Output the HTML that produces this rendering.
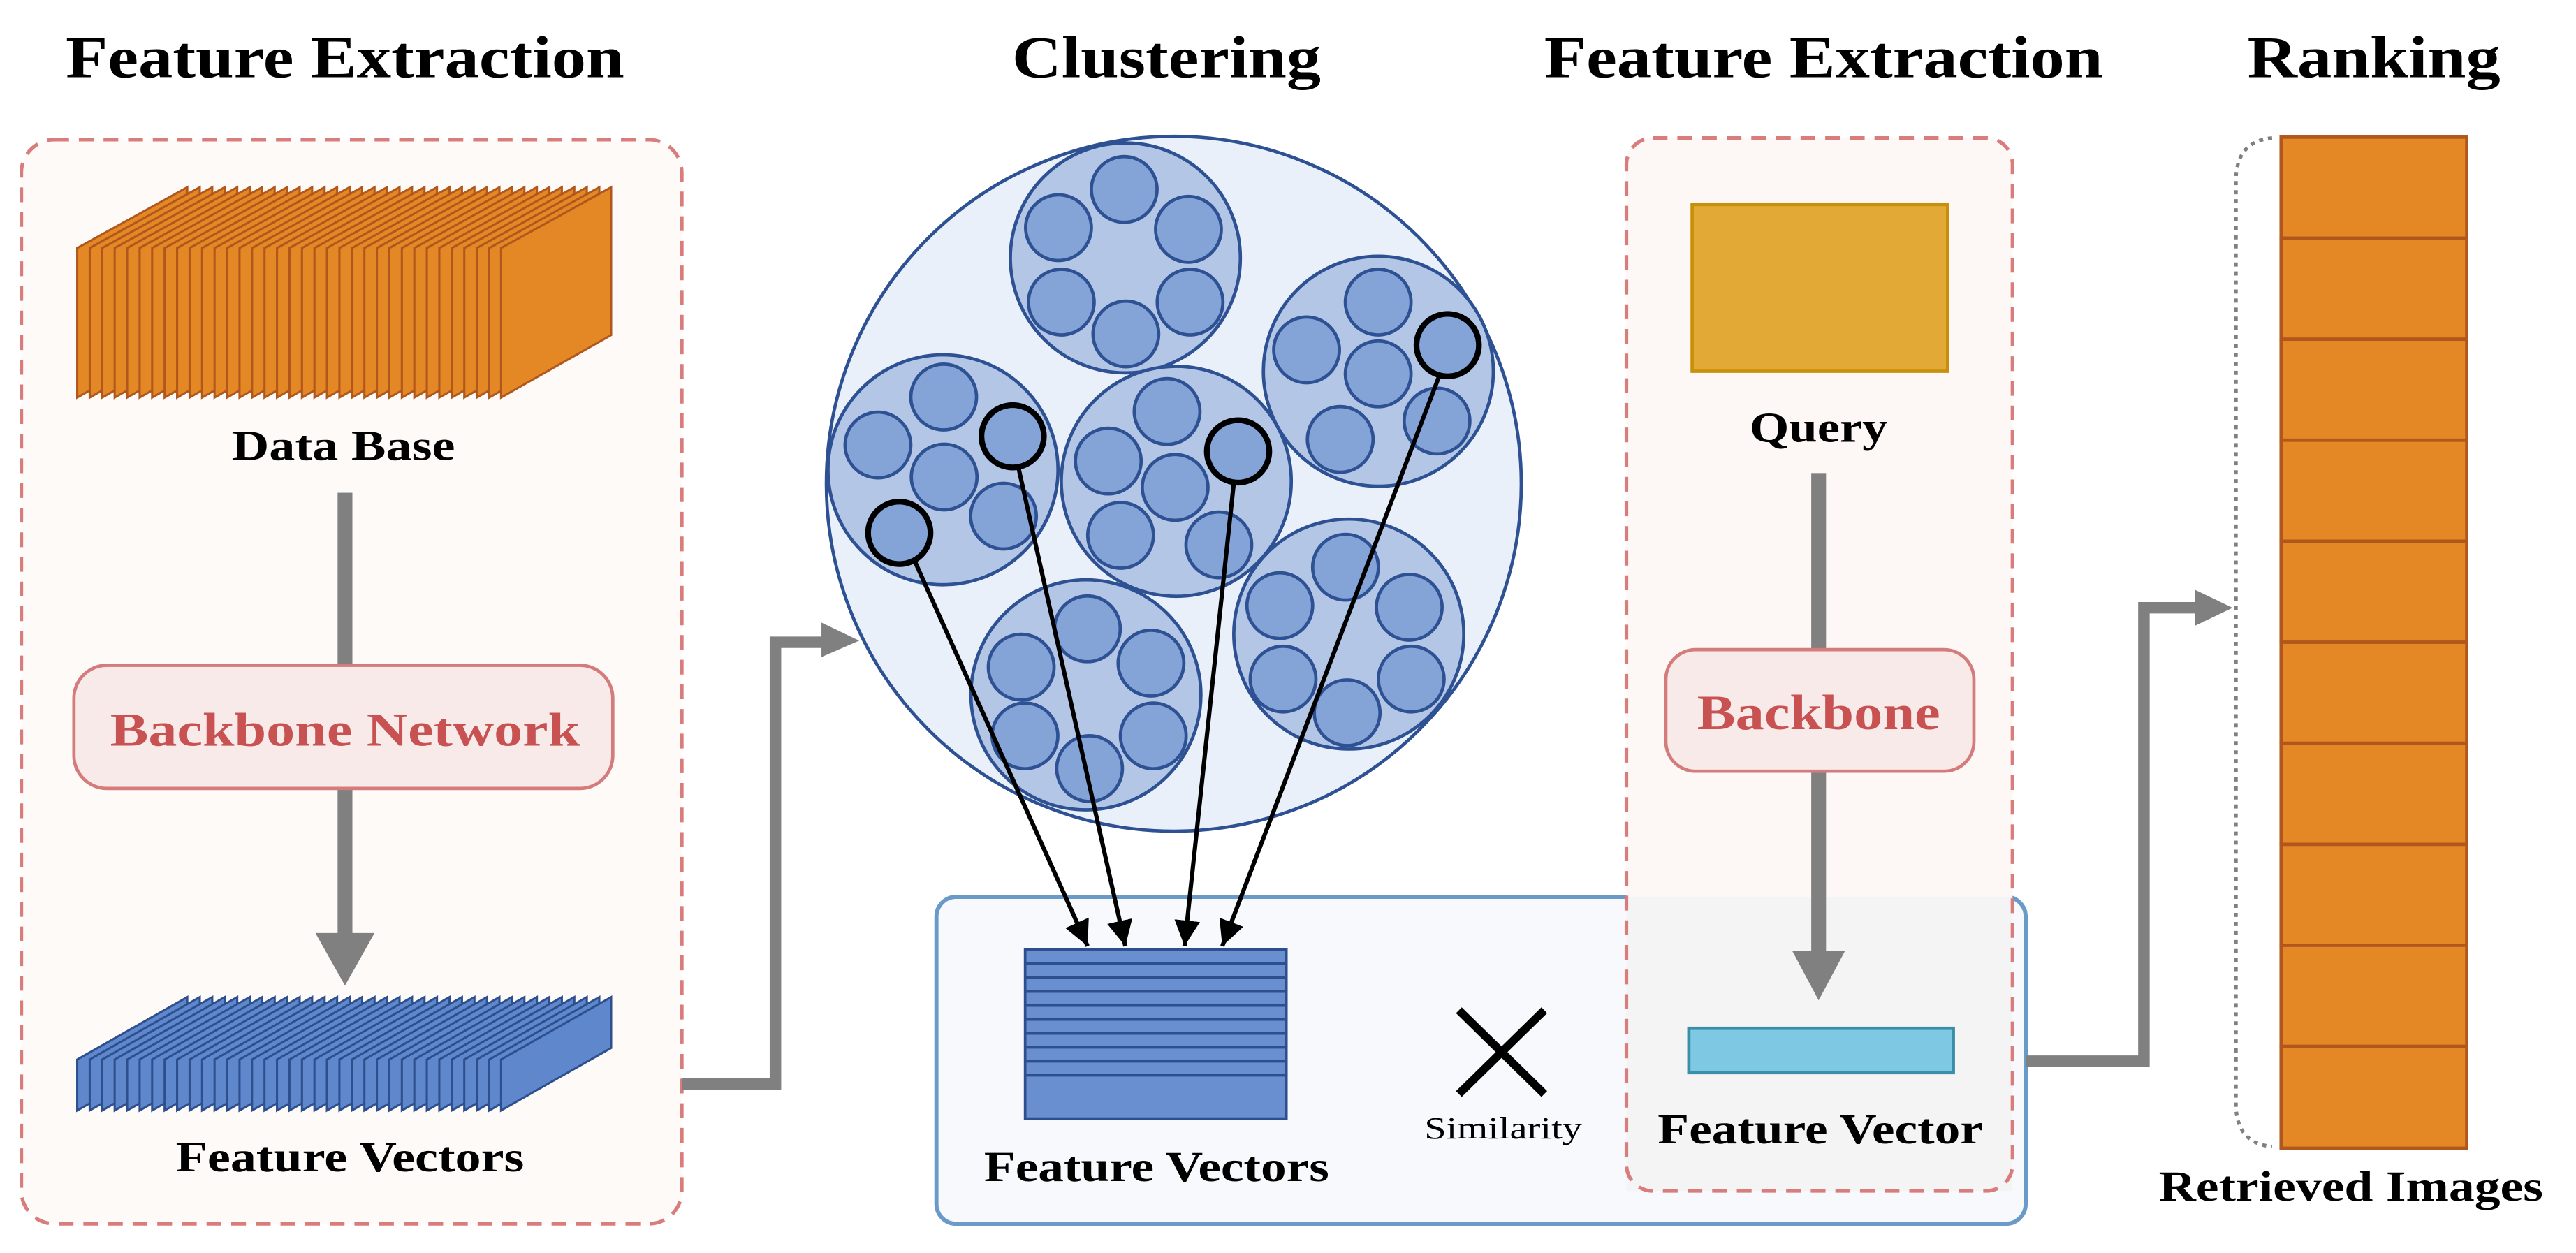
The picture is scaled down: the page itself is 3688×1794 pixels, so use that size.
<!DOCTYPE html>
<html><head><meta charset="utf-8"><style>html,body{margin:0;padding:0;background:#fff}svg{display:block}text{font-family:"Liberation Serif",serif}</style></head>
<body>
<svg width="3688" height="1794" viewBox="0 0 1568 762.8" preserveAspectRatio="none" xmlns="http://www.w3.org/2000/svg">
<defs>
<polygon id="op" points="0,151 67,114 67,204 0,242" fill="#e48725" stroke="#b0571d" stroke-width="1.3"/>
<polygon id="bp" points="0,645 67,607 67,638 0,676" fill="#5f88cc" stroke="#2d4f8e" stroke-width="1.3"/>
<circle id="sc" r="20" fill="#84a4d8" stroke="#2d5193" stroke-width="2"/>
<circle id="mc" r="70" fill="#b3c6e6" stroke="#2d5193" stroke-width="2"/>
<marker id="ah" viewBox="0 0 10 10" refX="10" refY="5" markerWidth="6" markerHeight="6" orient="auto" markerUnits="strokeWidth"><path d="M0,0 L10,5 L0,10 z" fill="#000"/></marker>
</defs>
<g font-weight="bold" fill="#000">
<text x="210" y="47" font-size="36" text-anchor="middle" textLength="340" lengthAdjust="spacingAndGlyphs">Feature Extraction</text>
<text x="710" y="47" font-size="36" text-anchor="middle" textLength="188" lengthAdjust="spacingAndGlyphs">Clustering</text>
<text x="1110" y="47" font-size="36" text-anchor="middle" textLength="340" lengthAdjust="spacingAndGlyphs">Feature Extraction</text>
<text x="1445" y="47" font-size="36" text-anchor="middle" textLength="154" lengthAdjust="spacingAndGlyphs">Ranking</text>
</g>
<rect x="13" y="85" width="402" height="660" rx="20" fill="#fefaf8" stroke="#d87c7c" stroke-width="2.2" stroke-dasharray="9,6"/>
<g>
<use href="#op" x="47"/><use href="#op" x="54.6"/><use href="#op" x="62.2"/><use href="#op" x="69.8"/><use href="#op" x="77.4"/><use href="#op" x="85"/><use href="#op" x="92.6"/><use href="#op" x="100.2"/><use href="#op" x="107.8"/><use href="#op" x="115.4"/><use href="#op" x="123"/><use href="#op" x="130.6"/><use href="#op" x="138.2"/><use href="#op" x="145.8"/><use href="#op" x="153.4"/><use href="#op" x="161"/><use href="#op" x="168.6"/><use href="#op" x="176.2"/><use href="#op" x="183.8"/><use href="#op" x="191.4"/><use href="#op" x="199"/><use href="#op" x="206.6"/><use href="#op" x="214.2"/><use href="#op" x="221.8"/><use href="#op" x="229.4"/><use href="#op" x="237"/><use href="#op" x="244.6"/><use href="#op" x="252.2"/><use href="#op" x="259.8"/><use href="#op" x="267.4"/><use href="#op" x="275"/><use href="#op" x="282.6"/><use href="#op" x="290.2"/><use href="#op" x="297.8"/><use href="#op" x="305"/>
</g>
<text x="209" y="280" font-weight="bold" font-size="26" text-anchor="middle" textLength="136" lengthAdjust="spacingAndGlyphs">Data Base</text>
<rect x="205.5" y="300" width="9" height="270" fill="#808080"/>
<polygon points="192,568 228,568 210,600" fill="#808080"/>
<rect x="45" y="405" width="328" height="75" rx="20" fill="#f9eaea" stroke="#d47b7b" stroke-width="2"/>
<text x="210" y="454" font-weight="bold" font-size="29" fill="#c85252" text-anchor="middle" textLength="286" lengthAdjust="spacingAndGlyphs">Backbone Network</text>
<g>
<use href="#bp" x="47"/><use href="#bp" x="54.6"/><use href="#bp" x="62.2"/><use href="#bp" x="69.8"/><use href="#bp" x="77.4"/><use href="#bp" x="85"/><use href="#bp" x="92.6"/><use href="#bp" x="100.2"/><use href="#bp" x="107.8"/><use href="#bp" x="115.4"/><use href="#bp" x="123"/><use href="#bp" x="130.6"/><use href="#bp" x="138.2"/><use href="#bp" x="145.8"/><use href="#bp" x="153.4"/><use href="#bp" x="161"/><use href="#bp" x="168.6"/><use href="#bp" x="176.2"/><use href="#bp" x="183.8"/><use href="#bp" x="191.4"/><use href="#bp" x="199"/><use href="#bp" x="206.6"/><use href="#bp" x="214.2"/><use href="#bp" x="221.8"/><use href="#bp" x="229.4"/><use href="#bp" x="237"/><use href="#bp" x="244.6"/><use href="#bp" x="252.2"/><use href="#bp" x="259.8"/><use href="#bp" x="267.4"/><use href="#bp" x="275"/><use href="#bp" x="282.6"/><use href="#bp" x="290.2"/><use href="#bp" x="297.8"/><use href="#bp" x="305"/>
</g>
<text x="213" y="713" font-weight="bold" font-size="26" text-anchor="middle" textLength="212" lengthAdjust="spacingAndGlyphs">Feature Vectors</text>
<polyline points="415,660 472,660 472,391 502,391" fill="none" stroke="#808080" stroke-width="7"/>
<polygon points="500,379 523,390 500,400" fill="#808080"/>
<rect x="570" y="546" width="663" height="199" rx="12" fill="#f7f9fc" stroke="#6a9ac8" stroke-width="2.5"/>
<path d="M1006,84 H1209 Q1225,84 1225,100 V546 H990 V100 Q990,84 1006,84 z" fill="#fdf8f5"/>
<rect x="990" y="546" width="235" height="179" fill="#f4f4f5"/>
<rect x="990" y="84" width="235" height="641" rx="16" fill="none" stroke="#d87c7c" stroke-width="2.2" stroke-dasharray="9,6"/>
<circle cx="714.5" cy="294.5" r="211.5" fill="#e9f0f9" stroke="#2d5193" stroke-width="2"/>
<use href="#mc" x="685" y="157"/>
<use href="#mc" x="574" y="286"/>
<use href="#mc" x="716" y="293"/>
<use href="#mc" x="839" y="226"/>
<use href="#mc" x="661" y="423"/>
<use href="#mc" x="821" y="386"/>
<g>
<use href="#sc" x="684.3" y="115.3"/><use href="#sc" x="644.3" y="138.6"/><use href="#sc" x="723.4" y="139.6"/><use href="#sc" x="646" y="183.9"/><use href="#sc" x="724.4" y="183.9"/><use href="#sc" x="685.3" y="203.3"/>
<use href="#sc" x="574.4" y="241.7"/><use href="#sc" x="534.4" y="270.9"/><use href="#sc" x="574.7" y="290.4"/><use href="#sc" x="610.8" y="314.2"/>
<use href="#sc" x="710.4" y="250.5"/><use href="#sc" x="674.6" y="280.7"/><use href="#sc" x="715.3" y="296.7"/><use href="#sc" x="682.1" y="325.9"/><use href="#sc" x="741.9" y="331.7"/>
<use href="#sc" x="838.9" y="183.9"/><use href="#sc" x="795.3" y="213"/><use href="#sc" x="838.9" y="227.6"/><use href="#sc" x="815.8" y="267.5"/><use href="#sc" x="874.7" y="256.3"/>
<use href="#sc" x="661.9" y="382.8"/><use href="#sc" x="621.6" y="406.1"/><use href="#sc" x="700.6" y="403.7"/><use href="#sc" x="623.9" y="448"/><use href="#sc" x="702" y="448"/><use href="#sc" x="663.2" y="467.9"/>
<use href="#sc" x="819" y="345.3"/><use href="#sc" x="779" y="368.7"/><use href="#sc" x="857.8" y="369.7"/><use href="#sc" x="781" y="413.4"/><use href="#sc" x="859" y="413.4"/><use href="#sc" x="820" y="433.9"/>
</g>
<g fill="#84a4d8" stroke="#000" stroke-width="3.5">
<circle cx="616.4" cy="265.6" r="19"/><circle cx="547.4" cy="324.4" r="19"/><circle cx="753.6" cy="274.8" r="19"/><circle cx="881.2" cy="210.1" r="19"/>
</g>
<g stroke="#000" stroke-width="2.6" fill="none" marker-end="url(#ah)">
<line x1="557" y1="342" x2="662" y2="576"/>
<line x1="620" y1="285" x2="685" y2="576"/>
<line x1="751" y1="294" x2="721" y2="576"/>
<line x1="876" y1="229" x2="744" y2="576"/>
</g>
<rect x="624" y="578" width="159" height="103" fill="#6a8fd1" stroke="#2d4f8e" stroke-width="1.6"/>
<g stroke="#2d4f8e" stroke-width="1.8">
<line x1="624" y1="586.5" x2="783" y2="586.5"/><line x1="624" y1="595" x2="783" y2="595"/><line x1="624" y1="603.5" x2="783" y2="603.5"/><line x1="624" y1="612" x2="783" y2="612"/><line x1="624" y1="620.5" x2="783" y2="620.5"/><line x1="624" y1="629" x2="783" y2="629"/><line x1="624" y1="637.5" x2="783" y2="637.5"/><line x1="624" y1="646" x2="783" y2="646"/><line x1="624" y1="654.5" x2="783" y2="654.5"/>
</g>
<text x="704" y="719" font-weight="bold" font-size="26" text-anchor="middle" textLength="210" lengthAdjust="spacingAndGlyphs">Feature Vectors</text>
<g stroke="#000" stroke-width="5"><line x1="888" y1="615" x2="940" y2="666"/><line x1="940" y1="615" x2="888" y2="666"/></g>
<text x="915" y="693" font-size="19" text-anchor="middle" textLength="96" lengthAdjust="spacingAndGlyphs">Similarity</text>
<rect x="1030" y="124.5" width="155.5" height="101.5" fill="#e3a936" stroke="#c8900a" stroke-width="2"/>
<text x="1107" y="269" font-weight="bold" font-size="26" text-anchor="middle" textLength="84" lengthAdjust="spacingAndGlyphs">Query</text>
<rect x="1102.5" y="288" width="9" height="294" fill="#808080"/>
<polygon points="1091,579 1123,579 1107,609" fill="#808080"/>
<rect x="1014" y="395.5" width="187.5" height="74" rx="18" fill="#f9eaea" stroke="#d47b7b" stroke-width="2"/>
<text x="1107" y="444" font-weight="bold" font-size="30" fill="#c85252" text-anchor="middle" textLength="148" lengthAdjust="spacingAndGlyphs">Backbone</text>
<rect x="1028" y="626" width="161" height="27" fill="#7ec8e3" stroke="#3a8fa8" stroke-width="2"/>
<text x="1108" y="696" font-weight="bold" font-size="26" text-anchor="middle" textLength="198" lengthAdjust="spacingAndGlyphs">Feature Vector</text>
<polyline points="1233,646 1305,646 1305,370 1338,370" fill="none" stroke="#808080" stroke-width="7"/>
<polygon points="1336,359 1359,370 1336,381" fill="#808080"/>
<path d="M1383,84 Q1361,86 1361,110 L1361,672 Q1361,696 1383,698" fill="none" stroke="#808080" stroke-width="2.2" stroke-dasharray="2.5,3"/>
<g fill="#e48725" stroke="#b0571d" stroke-width="2">
<rect x="1388.5" y="83.5" width="113" height="61.5"/><rect x="1388.5" y="145" width="113" height="61.5"/><rect x="1388.5" y="206.5" width="113" height="61.5"/><rect x="1388.5" y="268" width="113" height="61.5"/><rect x="1388.5" y="329.5" width="113" height="61.5"/><rect x="1388.5" y="391" width="113" height="61.5"/><rect x="1388.5" y="452.5" width="113" height="61.5"/><rect x="1388.5" y="514" width="113" height="61.5"/><rect x="1388.5" y="575.5" width="113" height="61.5"/><rect x="1388.5" y="637" width="113" height="62"/>
</g>
<text x="1431" y="731" font-weight="bold" font-size="26" text-anchor="middle" textLength="234" lengthAdjust="spacingAndGlyphs">Retrieved Images</text>
</svg>
</body></html>
